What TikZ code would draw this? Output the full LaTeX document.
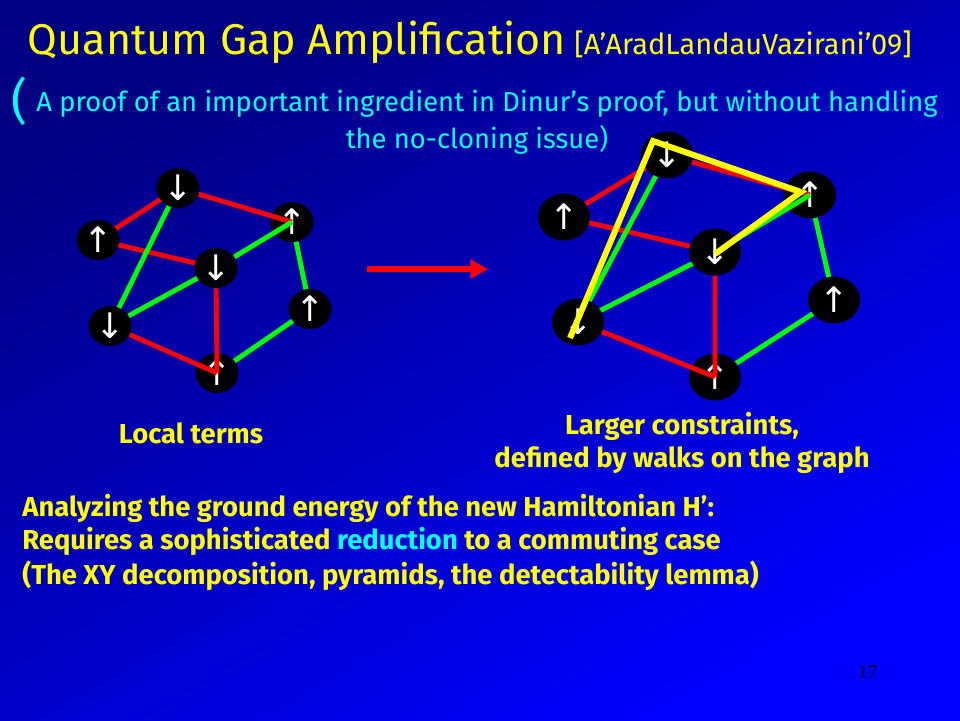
\documentclass[tikz,border=0pt]{standalone}
\usepackage{fontspec}
\setmainfont{Fira Sans}
\newfontfamily\spinfont{DejaVu Sans}
\newfontfamily\pagefont{Liberation Serif}
\usetikzlibrary{arrows.meta, positioning, shapes.geometric, calc}
\pgfdeclarelayer{bg}
\pgfdeclarelayer{bonds}
\pgfsetlayers{bg,bonds,main}

\definecolor{slideyellow}{RGB}{255,255,0}
\definecolor{slidecyan}{RGB}{0,255,255}
\definecolor{bondred}{RGB}{255,0,0}
\definecolor{bondgreen}{RGB}{0,255,0}
\definecolor{navytop}{RGB}{0,0,130}
\definecolor{bluebot}{RGB}{0,0,255}
\definecolor{pagenavy}{RGB}{0,0,30}

\tikzset{
  spin/.style={ellipse, fill=black, inner sep=0pt, minimum width=0.86cm, minimum height=0.8cm,
    text=white, font=\spinfont\fontsize{20}{20}\selectfont},
  bigspin/.style={spin, minimum width=1.04cm, minimum height=0.94cm},
  rbond/.style={draw=bondred, line width=2.8pt},
  gbond/.style={draw=bondgreen, line width=2.8pt},
  walk/.style={draw=slideyellow, line width=3.4pt, line join=miter},
  slidetext/.style={inner sep=0pt, text=slideyellow, font=\bfseries\fontsize{15.6}{18}\selectfont},
  subtext/.style={inner sep=0pt, text=slidecyan, font=\fontsize{15.6}{18}\selectfont},
}

\begin{document}
\begin{tikzpicture}[x=0.02cm, y=-0.02cm]
  % Slide background
  \begin{pgfonlayer}{bg}
    \shade[top color=navytop, bottom color=bluebot, shading angle=30] (0,0) rectangle (960,720);
  \end{pgfonlayer}
  \useasboundingbox (0,0) rectangle (960,720);

  % Title
  \node[anchor=base, inner sep=0pt, text=slideyellow, font=\fontsize{24.5}{28}\selectfont] (title) at (297,54) {Quantum Gap Amplification};
  \node[anchor=base west, inner sep=0pt, text=slideyellow, font=\fontsize{16.5}{19}\selectfont] (cite) at (574,54) {[A'AradLandauVazirani'09]};

  % Subtitle
  \node[subtext, anchor=base west, font=\fontsize{28}{30}\selectfont] (paren) at (11,118) {(};
  \node[subtext, anchor=base west] (sub1) at (36,111) {A proof of an important ingredient in Dinur's proof, but without handling};
  \node[subtext, anchor=base] (sub2) at (477,148) {the no-cloning issue)};

  % Left graph: local terms
  \node[spin] (lTop) at (178,188) {↓};
  \node[spin] (lLeft) at (98,240) {↑};
  \node[spin] (lRtop) at (292,222) {↑};
  \node[spin] (lMid) at (216,268) {↓};
  \node[spin] (lRight) at (310,309) {↑};
  \node[spin] (lBl) at (110,326) {↓};
  \node[spin] (lBot) at (217,373) {↑};

  \begin{pgfonlayer}{bonds}
    \draw[rbond] (lTop.center) -- (lLeft.center) (lLeft.center) -- (lMid.center);
    \draw[gbond] (lTop.center) -- (lBl.center) (lBl.center) -- (lMid.center)
                 (lRtop.center) -- (lRight.center) (lRight.center) -- (lBot.center);
  \end{pgfonlayer}
  % bonds lying over the spins
  \draw[rbond] (lTop) -- (lRtop.center) (lMid) -- (lBot.center) (lBl) -- (lBot.center);
  \draw[gbond] (lMid) -- (lRtop.center);

  % Arrow
  \coordinate (arrS) at (367,269);
  \coordinate (arrE) at (488,269);
  \draw[bondred, line width=3.8pt, -{Triangle[length=10pt, width=10.5pt]}] (arrS) -- (arrE);

  % Right graph: larger constraints
  \node[bigspin] (rTop) at (667,155) {↓};
  \node[bigspin] (rLeft) at (564,217) {↑};
  \node[bigspin] (rRtop) at (810,195) {↑};
  \node[bigspin] (rMid) at (715,252) {↓};
  \node[bigspin] (rRight) at (834,300) {↑};
  \node[bigspin] (rBl) at (578,322) {↓};
  \node[bigspin] (rBot) at (715,377) {↑};

  \begin{pgfonlayer}{bonds}
    \draw[rbond] (rTop.center) -- (rLeft.center) (rLeft.center) -- (rMid.center);
    \draw[gbond] (rTop.center) -- (rBl.center) (rBl.center) -- (rMid.center)
                 (rRtop.center) -- (rRight.center) (rRight.center) -- (rBot.center);
  \end{pgfonlayer}
  \draw[rbond] (rTop) -- (rRtop.center) (rMid) -- (rBot.center) (rBl) -- (rBot.center);
  \draw[gbond] (rMid) -- (rRtop.center);

  % Walk on the graph
  \coordinate (w0) at ([shift={(-8,16)}]rBl.center);
  \coordinate (w1) at ([shift={(-14,-14)}]rTop.center);
  \coordinate (w2) at ([shift={(-9,-3)}]rRtop.center);
  \coordinate (w3) at ([shift={(0,2)}]rMid.center);
  \draw[walk] (w0) -- (w1) -- (w2) -- (w3);

  % Captions
  \node[slidetext, anchor=base] (localLbl) at (191,443) {Local terms};
  \node[slidetext, anchor=base] (largerLbl) at (682,434) {Larger constraints,};
  \node[slidetext, anchor=base] (walkLbl) at (682,467) {defined by walks on the graph};

  % Bottom text
  \node[slidetext, anchor=base west] (line1) at (22,516) {Analyzing the ground energy of the new Hamiltonian H':};
  \node[slidetext, anchor=base west] (line2) at (22,549) {Requires a sophisticated \textcolor{slidecyan}{reduction} to a commuting case};
  \node[slidetext, anchor=base west] (line3) at (22,584) {(The XY decomposition, pyramids, the detectability lemma)};

  % Page number
  \node[inner sep=0pt, text=pagenavy, font=\pagefont\fontsize{11}{11}\selectfont] (pageNo) at (868,672) {17};
\end{tikzpicture}
\end{document}
